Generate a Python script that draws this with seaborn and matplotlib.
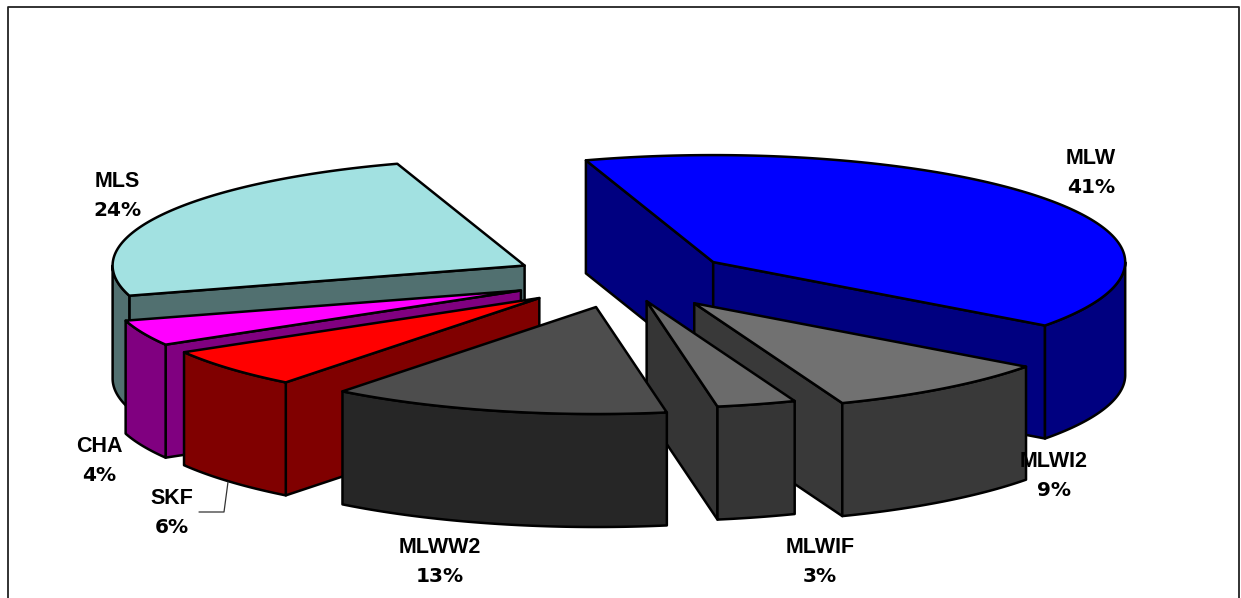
import numpy as np
import matplotlib
matplotlib.use("Agg")
import matplotlib.pyplot as plt
import seaborn as sns

# values, the printed labels are rounded
names = ["MLW", "MLWI2", "MLWIF", "MLWW2", "SKF", "CHA", "MLS"]
shares = [40.1, 9.05, 3.1, 13.3, 6.0, 3.9, 24.55]
pct_labels = ["41%", "9%", "3%", "13%", "6%", "4%", "24%"]

top_colors = ["#0000FF", "#717171", "#6B6B6B", "#4D4D4D", "#FF0000", "#FF00FF", "#A2E1E1"]
wall_colors = ["#000080", "#393939", "#353535", "#262626", "#800000", "#800080", "#517070"]

# layout in pixels
W, H = 1241, 598
CX, CY = 623, 279
RX, RY = 412, 107
DEPTH = 113
explode = [0.27, 0.285, 0.215, 0.27, 0.27, 0.27, 0.27]
START = -18
LINE_W = 1.8

label_pos = {
    "MLW": (1091, 173),
    "MLWI2": (1054, 476),
    "MLWIF": (820, 562),
    "MLWW2": (440, 562),
    "SKF": (172, 513),
    "CHA": (99, 461),
    "MLS": (117, 196),
}


def rim(cx, cy, ang):
    a = np.radians(ang)
    return cx + RX * np.sin(a), cy - RY * np.cos(a)


def draw_slice(ax, a0, a1, off, top, wall):
    mid = np.radians((a0 + a1) / 2)
    cx = CX + off * RX * np.sin(mid)
    cy = CY - off * RY * np.cos(mid)
    style = dict(edgecolor="black", linewidth=LINE_W, joinstyle="round")

    # cut faces, only the ones turned to the viewer
    for ang, visible in ((a0, np.sin(np.radians(a0)) < 0), (a1, np.sin(np.radians(a1)) > 0)):
        if visible:
            x, y = rim(cx, cy, ang)
            ax.fill([cx, x, x, cx], [cy, y, y + DEPTH, cy + DEPTH], facecolor=wall, **style)

    # outer wall on the front half of the rim
    lo, hi = max(a0, 90), min(a1, 270)
    if lo < hi:
        t = np.linspace(lo, hi, 80)
        x, y = rim(cx, cy, t)
        ax.fill(np.r_[x, x[::-1]], np.r_[y, y[::-1] + DEPTH], facecolor=wall, **style)

    t = np.linspace(a0, a1, 160)
    x, y = rim(cx, cy, t)
    ax.fill(np.r_[cx, x], np.r_[cy, y], facecolor=top, **style)


def main():
    sns.set_theme(style="white")
    plt.rcParams["font.family"] = ["Liberation Sans", "DejaVu Sans"]

    fig = plt.figure(figsize=(W / 100, H / 100), dpi=100)
    ax = fig.add_axes([0, 0, 1, 1])
    ax.set_xlim(0, W)
    ax.set_ylim(H, 0)
    ax.axis("off")

    tops = sns.color_palette(top_colors)
    walls = sns.color_palette(wall_colors)

    angles = START + np.r_[0, np.cumsum(shares)] / np.sum(shares) * 360
    # back slices first
    order = sorted(range(len(shares)), key=lambda i: -np.cos(np.radians((angles[i] + angles[i + 1]) / 2)))
    for i in order:
        draw_slice(ax, angles[i], angles[i + 1], explode[i], tops[i], walls[i])

    # chart frame, the bottom edge is cut off
    sns.lineplot(x=[7.5, 7.5, 1239, 1239], y=[H, 6.5, 6.5, H], sort=False, estimator=None,
                 color="#222222", linewidth=1.3, ax=ax)

    # leader line of SKF
    sns.lineplot(x=[199, 224, 228], y=[512, 512, 482], sort=False, estimator=None,
                 color="#333333", linewidth=0.9, ax=ax)

    for name, pct in zip(names, pct_labels):
        x, y = label_pos[name]
        ax.text(x, y - 14.5, name, ha="center", va="center", fontsize=15.5, fontweight="bold",
                color="black", zorder=5)
        ax.text(x, y + 14.5, pct, ha="center", va="center", fontsize=14.5, fontweight="bold",
                family="DejaVu Sans", color="black", zorder=5)

    fig.savefig("out.png", dpi=100, facecolor="white")


if __name__ == "__main__":
    main()
